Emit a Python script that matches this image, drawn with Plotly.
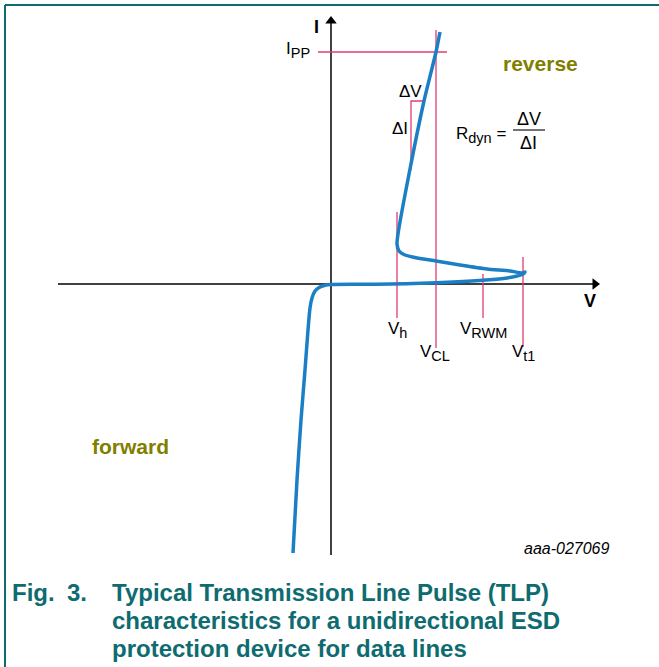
import plotly.graph_objects as go

W, H = 659, 667
# data units: V and I in arbitrary units (origin at axis crossing)
XR = [-33.1, 32.8]
YR = [-38.3, 28.4]

# TLP curve (V, I) - reverse branch with snapback, then forward branch
curve_v = [10.9, 10.5, 9.3, 7.9, 6.7, 6.6, 6.8, 7.4, 8.6, 10.5, 12.9, 15.6, 17.9, 19.1, 19.4, 19.2,
           18.6, 17.6, 15.5, 12.2, 9.0, 6.0, 3.0, 0.0, -0.6, -1.2, -1.6, -1.9, -2.1, -2.3, -2.6, -3.0, -3.4, -3.8]
curve_i = [25.2, 23.2, 18.3, 11.5, 5.0, 4.0, 3.3, 2.9, 2.6, 2.3, 1.9, 1.5, 1.3, 1.1, 1.2, 1.0,
           0.8, 0.6, 0.4, 0.2, 0.07, 0.0, -0.03, -0.05, -0.12, -0.35, -0.7, -1.4, -2.4, -4.6, -8.6, -13.6, -19.6, -26.9]

# marker lines
ipp_level = 23.2
ipp_span = [-1.3, 11.6]
v_h, v_cl, v_rwm, v_t1 = 6.6, 10.5, 15.2, 19.2
v_h_span = [7.2, -3.4]
v_cl_span = [25.4, -6.4]
v_rwm_span = [1.0, -3.4]
v_t1_span = [2.7, -6.3]
dv_tri_v = [9.3, 8.0, 8.0]
dv_tri_i = [18.3, 18.3, 11.4]

# axes extents
v_axis = [-27.3, 26.4]
i_axis = [-27.1, 26.3]

BLUE = "#1b7fc6"
PINK = "#e23c72"
OLIVE = "#7f7f00"
TEAL = "#0e6b70"
FONT = "Liberation Sans, Arial, sans-serif"

fig = go.Figure()

# axes
fig.add_trace(go.Scatter(x=v_axis, y=[0, 0], mode="lines", line=dict(color="black", width=1.5), hoverinfo="skip"))
fig.add_trace(go.Scatter(x=[0, 0], y=i_axis, mode="lines", line=dict(color="black", width=1.5), hoverinfo="skip"))
fig.add_trace(go.Scatter(x=[v_axis[1]], y=[0], mode="markers",
                         marker=dict(symbol="triangle-right", size=10, color="black"), hoverinfo="skip"))
fig.add_trace(go.Scatter(x=[0], y=[i_axis[1]], mode="markers",
                         marker=dict(symbol="triangle-up", size=10, color="black"), hoverinfo="skip"))

# pink reference lines
pl = dict(color=PINK, width=1.3)
fig.add_trace(go.Scatter(x=ipp_span, y=[ipp_level, ipp_level], mode="lines", line=pl, hoverinfo="skip"))
for xv, span in [(v_h, v_h_span), (v_cl, v_cl_span), (v_rwm, v_rwm_span), (v_t1, v_t1_span)]:
    fig.add_trace(go.Scatter(x=[xv, xv], y=span, mode="lines", line=pl, hoverinfo="skip"))
fig.add_trace(go.Scatter(x=dv_tri_v, y=dv_tri_i, mode="lines", line=pl, hoverinfo="skip"))
# fraction bar
fig.add_trace(go.Scatter(x=[18.2, 21.4], y=[15.4, 15.4], mode="lines", line=dict(color="black", width=1.1), hoverinfo="skip"))

# TLP curve
fig.add_trace(go.Scatter(x=curve_v, y=curve_i, mode="lines", line=dict(color=BLUE, width=3.5, shape="spline", smoothing=0.6),
                         hoverinfo="skip"))

def txt(x, y, s, size=16, color="black", bold=False, xanchor="center", ref="data", italic=False):
    if bold:
        s = "<b>" + s + "</b>"
    if italic:
        s = "<i>" + s + "</i>"
    d = dict(x=x, y=y, text=s, showarrow=False, xanchor=xanchor, yanchor="middle",
             font=dict(family=FONT, size=size, color=color))
    if ref == "paper":
        d.update(xref="paper", yref="paper")
    else:
        d.update(xref="x", yref="y")
    fig.add_annotation(**d)

def sub(s, size=14.5):
    return "<sub><span style='font-size:%spx'>%s</span></sub>" % (size, s)

txt(-1.5, 25.7, "I", 18, bold=True)
txt(25.9, -1.7, "V", 18, bold=True)
txt(-1.9, 23.4, "I" + sub("PP"), 17, xanchor="right")
txt(7.9, 19.3, "ΔV", 17)
txt(6.9, 15.6, "ΔI", 17)
txt(12.3, 14.9, "R" + sub("dyn") + " =", 17, xanchor="left")
txt(19.8, 16.5, "ΔV", 18)
txt(19.7, 14.1, "ΔI", 18)
txt(6.6, -4.6, "V" + sub("h"), 17)
txt(10.4, -6.9, "V" + sub("CL"), 17)
txt(15.2, -4.6, "V" + sub("RWM"), 17)
txt(19.2, -6.9, "V" + sub("t1"), 17)
txt(20.9, 22.1, "reverse", 21, color=OLIVE, bold=True)
txt(-20.1, -16.2, "forward", 21, color=OLIVE, bold=True)

def px(xp, yp):
    return xp / W, 1 - yp / H

x, y = px(612, 548)
txt(x, y, "aaa-027069", 16, italic=True, xanchor="right", ref="paper")
x, y = px(10, 592)
txt(x, y, "Fig.", 24, color=TEAL, bold=True, xanchor="left", ref="paper")
x, y = px(65, 592)
txt(x, y, "3.", 24, color=TEAL, bold=True, xanchor="left", ref="paper")
for line, yp in [("Typical Transmission Line Pulse (TLP)", 592),
                 ("characteristics for a unidirectional ESD", 620),
                 ("protection device for data lines", 648)]:
    x, y = px(110, yp)
    txt(x, y, line, 24, color=TEAL, bold=True, xanchor="left", ref="paper")

# frame (top and left edges)
fig.add_shape(type="line", xref="paper", yref="paper", x0=5 / W, y0=1 - 5 / H, x1=1, y1=1 - 5 / H,
              line=dict(color=TEAL, width=2))
fig.add_shape(type="line", xref="paper", yref="paper", x0=5 / W, y0=0, x1=5 / W, y1=1 - 5 / H,
              line=dict(color=TEAL, width=2))

fig.update_layout(width=W, height=H, margin=dict(l=0, r=0, t=0, b=0), showlegend=False,
                  paper_bgcolor="white", plot_bgcolor="white",
                  xaxis=dict(range=XR, visible=False, fixedrange=True),
                  yaxis=dict(range=YR, visible=False, fixedrange=True))

fig.write_html("out.html", config={"displayModeBar": False},
               post_script="document.body.style.margin='0';document.body.style.overflow='hidden';")
